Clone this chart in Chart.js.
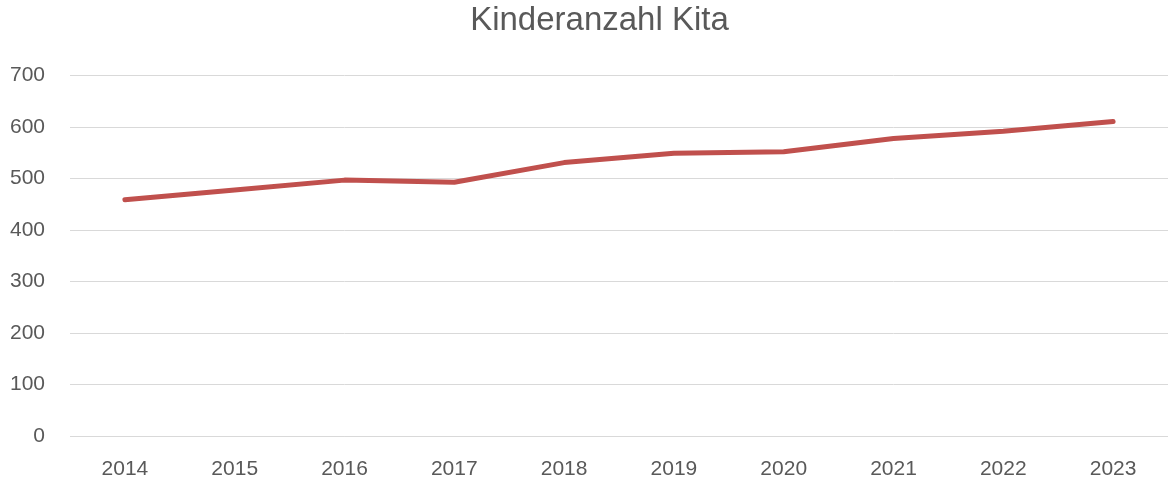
<!DOCTYPE html>
<html>
<head>
<meta charset="utf-8">
<script src="https://cdn.jsdelivr.net/npm/chart.js@4/dist/chart.umd.min.js"></script>
<style>
  html, body { margin: 0; padding: 0; background: #fff; }
  #wrap { width: 1168px; height: 479px; position: relative; }
</style>
</head>
<body>
<div id="wrap"><canvas id="myChart"></canvas></div>
<script>
// data
const years = ['2014', '2015', '2016', '2017', '2018', '2019', '2020', '2021', '2022', '2023'];
const kinder = [459, 478, 497, 493, 531, 549, 552, 578, 592, 611];
const yTicks = [0, 100, 200, 300, 400, 500, 600, 700];

const textGrey = '#595959';
const gridGrey = '#d9d9d9';
const font = 'Liberation Sans, Arial, sans-serif';

// title in the original sits a bit right of the canvas centre
const shiftTitle = {
    id: 'shiftTitle',
    afterLayout(chart) {
        if (chart.titleBlock) chart.titleBlock.left = 28;
    }
};

const config = {
    type: 'line',
    data: {
        labels: years,
        datasets: [{
            label: 'Kinderanzahl Kita',
            data: kinder,
            borderColor: '#c0504d',
            borderWidth: 5,
            borderCapStyle: 'round',
            borderJoinStyle: 'round',
            pointRadius: 0,
            fill: false,
            tension: 0
        }]
    },
    options: {
        responsive: true,
        maintainAspectRatio: false,
        animation: false,
        layout: { padding: { left: 0, right: -3, top: 0, bottom: 0 } },
        plugins: {
            legend: { display: false },
            tooltip: { enabled: false },
            title: {
                display: true,
                text: 'Kinderanzahl Kita',
                color: textGrey,
                font: { family: font, size: 33, weight: 'normal' },
                padding: { top: 1, bottom: 35 }
            }
        },
        scales: {
            x: {
                offset: true,
                afterFit: (scale) => { scale.height = 43; },
                grid: { display: false, drawTicks: false },
                border: { display: true, color: gridGrey, width: 1 },
                ticks: {
                    color: textGrey,
                    font: { family: font, size: 21 },
                    padding: 21,
                    maxRotation: 0
                }
            },
            y: {
                min: 0,
                max: 700,
                afterBuildTicks: (scale) => { scale.ticks = yTicks.map(v => ({ value: v })); },
                afterFit: (scale) => { scale.width = 70; },
                grid: { color: gridGrey, lineWidth: 1, drawTicks: false },
                border: { display: false },
                ticks: {
                    color: textGrey,
                    font: { family: font, size: 21 },
                    padding: 25
                }
            }
        }
    },
    plugins: [shiftTitle]
};

new Chart(document.getElementById('myChart').getContext('2d'), config);
</script>
</body>
</html>
